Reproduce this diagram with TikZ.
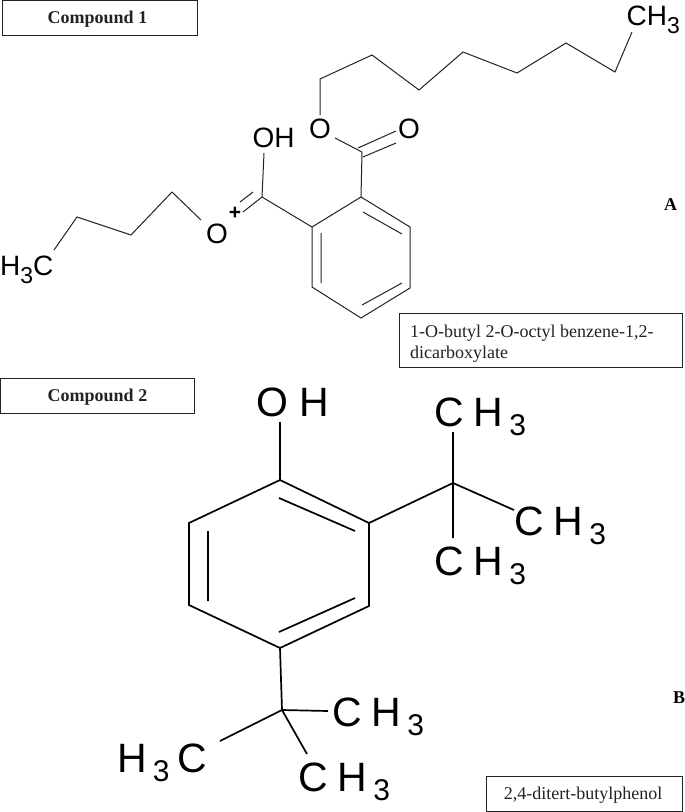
\documentclass[tikz,border=0pt]{standalone}
\usepackage{fontspec}
\setmainfont{Liberation Serif}
\newfontfamily\chemfont{Liberation Sans}
\definecolor{inkc}{HTML}{222222}
\tikzset{
  bondA/.style={draw=inkc,line width=1.0pt,line join=miter},
  bondB/.style={draw=black,line width=1.7pt,line join=miter},
  framebox/.style={draw=inkc,line width=0.9pt,inner sep=0pt},
  tagtext/.style={anchor=base,inner sep=0pt,font=\fontsize{18}{20}\selectfont\bfseries,text=inkc},
  nametext/.style={inner sep=0pt,font=\fontsize{18}{20}\selectfont,text=inkc},
  atomA/.style={anchor=base,font=\chemfont\fontsize{28}{30}\selectfont,inner sep=0pt,text=black},
  atomB/.style={anchor=base west,font=\chemfont\fontsize{41}{44}\selectfont,inner sep=0pt,text=black},
  panel/.style={anchor=base west,font=\fontsize{18}{20}\selectfont\bfseries,inner sep=0pt}
}
\newcommand{\subA}{\raisebox{-8pt}{\fontsize{23}{25}\selectfont 3}}
\newcommand{\subB}{\hspace{6pt}\raisebox{-9pt}{\fontsize{30}{32}\selectfont 3}}
\newcommand{\methylB}{C\hspace{10pt}H\subB}
\begin{document}
\begin{tikzpicture}[x=1pt,y=-1pt]
\useasboundingbox (0,0) rectangle (685,812);
% boxes and labels
\node[framebox,minimum width=195pt,minimum height=35pt] (c1) at (99.5,17.5) {};
\node[tagtext] (c1t) at (97.5,23) {Compound 1};
\node[framebox,minimum width=194pt,minimum height=35pt] (c2) at (97.5,395.5) {};
\node[tagtext] (c2t) at (97.5,401) {Compound 2};
\node[framebox,minimum width=283pt,minimum height=54pt] (n1) at (540.5,340) {};
\node[nametext,anchor=base west] (n1a) at (410,337) {1-O-butyl 2-O-octyl benzene-1,2-};
\node[nametext,anchor=base west] (n1b) at (410,358) {dicarboxylate};
\node[framebox,minimum width=196pt,minimum height=35pt] (n2) at (584,793.5) {};
\node[nametext,anchor=base] (n2t) at (583,799) {2,4-ditert-butylphenol};
\node[panel] (pa) at (664,210) {A};
\node[panel] (pb) at (673,703) {B};
% compound 1 atoms
\node[atomA] (oh1) at (273.5,147) {OH};
\node[atomA] (oL) at (217,243) {O};
\node[font=\chemfont\bfseries\fontsize{21}{22}\selectfont,inner sep=0pt] (plus) at (235,213) {+};
\node[atomA] (oE) at (320,138) {O};
\node[atomA] (oD) at (409,138) {O};
\node[atomA,anchor=base west] (me1) at (626.5,25) {CH\subA};
\node[atomA,anchor=base west] (me2) at (0,275) {H\subA C};
% compound 1 skeleton
\coordinate (a1) at (361,197); \coordinate (a2) at (410,227); \coordinate (a3) at (410,288);
\coordinate (a4) at (361,318); \coordinate (a5) at (312,287); \coordinate (a6) at (312,227);
\draw[bondA] (a1)--(a2)--(a3)--(a4)--(a5)--(a6)--cycle;
\coordinate (ai1) at (363,212); \coordinate (ai2) at (402,234);
\coordinate (ai3) at (402,283); \coordinate (ai4) at (362,305);
\coordinate (ai5) at (321,233); \coordinate (ai6) at (321,283);
\draw[bondA] (ai1)--(ai2) (ai3)--(ai4) (ai5)--(ai6);
\coordinate (cE) at (362,152);
\coordinate (cE1) at (335,138);
\coordinate (cDa) at (358,148); \coordinate (cDb) at (396,131);
\coordinate (cDc) at (363,157); \coordinate (cDd) at (396,143);
\draw[bondA] (a1)--(cE) (cE)--(cE1) (cDa)--(cDb) (cDc)--(cDd);
\coordinate (k1) at (320,115); \coordinate (k2) at (320,79); \coordinate (k3) at (372,55);
\coordinate (k4) at (419,90); \coordinate (k5) at (463,52); \coordinate (k6) at (517,73);
\coordinate (k7) at (566,43); \coordinate (k8) at (615,72); \coordinate (k9) at (632,32);
\draw[bondA] (k1)--(k2)--(k3)--(k4)--(k5)--(k6)--(k7)--(k8)--(k9);
\coordinate (cP) at (262,197);
\coordinate (cP1) at (264,153);
\coordinate (cPa) at (240,202); \coordinate (cPb) at (253,192);
\coordinate (cPc) at (243,212);
\draw[bondA] (cP)--(a6) (cP)--(cP1) (cPa)--(cPb) (cPc)--(cP);
\coordinate (b1) at (201,220); \coordinate (b2) at (172,192); \coordinate (b3) at (131,235);
\coordinate (b4) at (77,217); \coordinate (b5) at (54,250);
\draw[bondA] (b1)--(b2)--(b3)--(b4)--(b5);
% compound 2 atoms
\node[atomB] (oh2) at (256,416) {O\hspace{11pt}H};
\node[atomB] (m1) at (434,426) {\methylB};
\node[atomB] (m2) at (514,535) {\methylB};
\node[atomB] (m3) at (434,575) {\methylB};
\node[atomB] (m4) at (332,726) {\methylB};
\node[atomB] (m5) at (117,772) {H\subB\hspace{8pt}C};
\node[atomB] (m6) at (298,791) {\methylB};
% compound 2 skeleton
\coordinate (r1) at (280,480); \coordinate (r2) at (369,523); \coordinate (r3) at (369,606);
\coordinate (r4) at (280,648); \coordinate (r5) at (189,605); \coordinate (r6) at (189,523);
\draw[bondB] (r1)--(r2)--(r3)--(r4)--(r5)--(r6)--cycle;
\coordinate (ri1) at (208,531); \coordinate (ri2) at (208,601);
\coordinate (ri3) at (279,498); \coordinate (ri4) at (355,531);
\coordinate (ri5) at (355,598); \coordinate (ri6) at (279,632);
\draw[bondB] (ri1)--(ri2) (ri3)--(ri4) (ri5)--(ri6);
\coordinate (r0) at (280,422);
\draw[bondB] (r1)--(r0);
\coordinate (q1) at (453,483); \coordinate (q1a) at (453,432);
\coordinate (q1b) at (514,510); \coordinate (q1c) at (453,538);
\draw[bondB] (r2)--(q1) (q1)--(q1a) (q1)--(q1b) (q1)--(q1c);
\coordinate (q2) at (282,710); \coordinate (q2a) at (328,711);
\coordinate (q2b) at (220,741); \coordinate (q2c) at (307,754);
\draw[bondB] (r4)--(q2) (q2)--(q2a) (q2)--(q2b) (q2)--(q2c);
\end{tikzpicture}
\end{document}
